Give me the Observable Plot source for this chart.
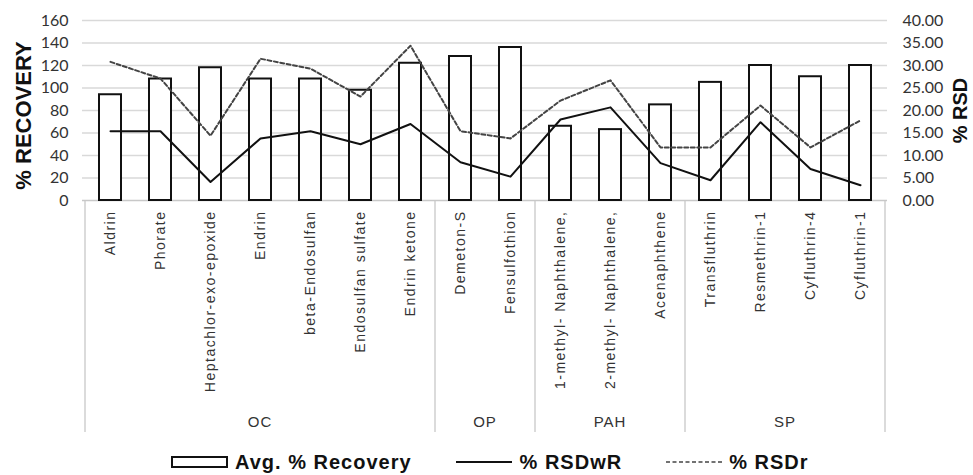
<!DOCTYPE html>
<html>
<head>
<meta charset="utf-8">
<script src="https://cdn.jsdelivr.net/npm/d3@7"></script>
<script src="https://cdn.jsdelivr.net/npm/@observablehq/plot@0.6"></script>
<style>
  body { margin: 0; background: #fff; }
  #wrap { position: relative; width: 973px; height: 475px; overflow: hidden; }
  g[aria-label="x-axis tick label"] text { letter-spacing: 1.5px; }
  .legend { position: absolute; left: 171px; top: 451px; height: 22px; display: flex; align-items: center;
            font-family: "Liberation Sans", Arial, sans-serif; font-weight: bold; font-size: 20px; letter-spacing: 1px; color: #111; }
  .legend .item { display: flex; align-items: center; }
  .legend svg { display: block; }
</style>
</head>
<body>
<div id="wrap"></div>
<script>
// ---------- data ----------
const compounds = ["Aldrin", "Phorate", "Heptachlor-exo-epoxide", "Endrin", "beta-Endosulfan",
  "Endosulfan sulfate", "Endrin ketone", "Demeton-S", "Fensulfothion",
  "1-methyl- Naphthalene,", "2-methyl- Naphthalene,", "Acenaphthene",
  "Transfluthrin", "Resmethrin-1", "Cyfluthrin-4", "Cyfluthrin-1"];
const groupOf = ["OC", "OC", "OC", "OC", "OC", "OC", "OC", "OP", "OP", "PAH", "PAH", "PAH", "SP", "SP", "SP", "SP"];
const groupNames = ["OC", "OP", "PAH", "SP"];
const recovery = [94, 108, 118, 108, 108, 98, 122, 128, 136, 66, 63, 85, 105, 120, 110, 120];
const rsdWR = [15.4, 15.4, 4.1, 13.8, 15.4, 12.5, 17.0, 8.5, 5.3, 18.0, 20.7, 8.3, 4.5, 17.4, 7.0, 3.4];
const rsdR = [30.8, 27.1, 14.4, 31.5, 29.3, 23.1, 34.4, 15.4, 13.8, 22.2, 26.7, 11.8, 11.8, 21.1, 11.8, 17.8];
const leftTicks = [0, 20, 40, 60, 80, 100, 120, 140, 160];
const rightTicks = [0, 5, 10, 15, 20, 25, 30, 35, 40];
const leftTitle = "% RECOVERY";
const rightTitle = "% RSD";
const legendLabels = ["Avg. % Recovery", "% RSDwR", "% RSDr"];

// ---------- chart ----------
const leftMax = 160, rightMax = 40;
const k = leftMax / rightMax; // right axis values expressed on the shared y scale

const data = compounds.map((name, i) => ({
  name, group: groupOf[i], recovery: recovery[i], rsdWR: rsdWR[i], rsdR: rsdR[i]
}));

function groupFrame(index, scales, values, dimensions) {
  const x = scales.x;
  const bw = typeof x.bandwidth === "function" ? x.bandwidth() : x.bandwidth;
  let step = typeof x.step === "function" ? x.step() : x.step;
  if (!step) step = (dimensions.width - dimensions.marginLeft - dimensions.marginRight) / compounds.length;
  const half = (step - bw) / 2;
  const y0 = dimensions.height - dimensions.marginBottom;
  const yEnd = y0 + 232;
  const g = d3.create("svg:g").attr("aria-label", "groups");
  const spans = groupNames.map(gn => {
    const members = compounds.filter((c, i) => groupOf[i] === gn);
    return {gn, left: x(members[0]) - half, right: x(members[members.length - 1]) + bw + half};
  });
  const bounds = [spans[0].left, ...spans.map(s => s.right)];
  g.selectAll("line").data(bounds).join("line")
    .attr("x1", d => d).attr("x2", d => d)
    .attr("y1", y0).attr("y2", yEnd)
    .attr("stroke", "#c8c8c8").attr("stroke-width", 1.3);
  g.selectAll("text").data(spans).join("text")
    .attr("x", d => (d.left + d.right) / 2)
    .attr("y", y0 + 222)
    .attr("text-anchor", "middle")
    .attr("dy", "0.35em")
    .attr("font-family", "'Liberation Sans', Arial, sans-serif")
    .attr("font-size", 15)
    .attr("letter-spacing", "1px")
    .attr("fill", "#333")
    .text(d => d.gn);
  return g.node();
}

const chart = Plot.plot({
  width: 973,
  height: 445,
  marginLeft: 82,
  marginRight: 86,
  marginTop: 20,
  marginBottom: 245,
  style: {fontFamily: "Lato, 'Liberation Sans', sans-serif", fontSize: "15px", color: "#333", background: "#fff"},
  x: {domain: compounds, paddingInner: 0.57, paddingOuter: 0.285},
  y: {domain: [0, leftMax], nice: false},
  marks: [
    Plot.gridY(leftTicks.filter(d => d > 0), {stroke: "#d9d9d9", strokeOpacity: 1, strokeWidth: 1.5}),
    Plot.ruleY([0], {stroke: "#c8c8c8", strokeWidth: 1.5}),
    Plot.axisY(leftTicks, {anchor: "left", tickSize: 0, tickPadding: 14, label: null, fontSize: 16}),
    Plot.axisY(rightTicks.map(v => v * k), {anchor: "right", tickSize: 0, tickPadding: 15, label: null, fontSize: 16,
      tickFormat: d => (d / k).toFixed(2)}),
    Plot.axisX({anchor: "bottom", tickSize: 0, tickPadding: 10, tickRotate: -90, label: null,
      fontFamily: "'Liberation Sans', Arial, sans-serif", fontSize: 14}),
    Plot.barY(data, {x: "name", y: "recovery", fill: "white", stroke: "#111", strokeWidth: 2}),
    Plot.line(data, {x: "name", y: d => d.rsdWR * k, stroke: "#111", strokeWidth: 2}),
    Plot.line(data, {x: "name", y: d => d.rsdR * k, stroke: "#444", strokeWidth: 2, strokeDasharray: "4,2.5"}),
    Plot.text([leftTitle], {frameAnchor: "left", textAnchor: "middle", rotate: -90, dx: -59, dy: 5,
      fontWeight: "bold", fontSize: 22, fontFamily: "'Liberation Sans', Arial, sans-serif", fill: "#111"}),
    Plot.text([rightTitle], {frameAnchor: "right", textAnchor: "middle", rotate: -90, dx: 73,
      fontWeight: "bold", fontSize: 20, fontFamily: "'Liberation Sans', Arial, sans-serif", fill: "#111"}),
    groupFrame
  ]
});
document.getElementById("wrap").appendChild(chart);

// ---------- legend ----------
const legend = d3.select("#wrap").append("div").attr("class", "legend");
const it1 = legend.append("div").attr("class", "item");
it1.append("svg").attr("width", 57).attr("height", 12)
  .append("rect").attr("x", 1).attr("y", 1).attr("width", 55).attr("height", 10)
  .attr("fill", "white").attr("stroke", "#111").attr("stroke-width", 2);
it1.append("span").style("margin-left", "7px").text(legendLabels[0]);
const it2 = legend.append("div").attr("class", "item").style("margin-left", "44px");
it2.append("svg").attr("width", 56).attr("height", 12)
  .append("line").attr("x1", 0).attr("x2", 56).attr("y1", 6).attr("y2", 6)
  .attr("stroke", "#111").attr("stroke-width", 2);
it2.append("span").style("margin-left", "8px").text(legendLabels[1]);
const it3 = legend.append("div").attr("class", "item").style("margin-left", "44px");
it3.append("svg").attr("width", 58).attr("height", 12)
  .append("line").attr("x1", 0).attr("x2", 58).attr("y1", 6).attr("y2", 6)
  .attr("stroke", "#444").attr("stroke-width", 1.5).attr("stroke-dasharray", "4,2.5");
it3.append("span").style("margin-left", "5px").text(legendLabels[2]);
</script>
</body>
</html>
